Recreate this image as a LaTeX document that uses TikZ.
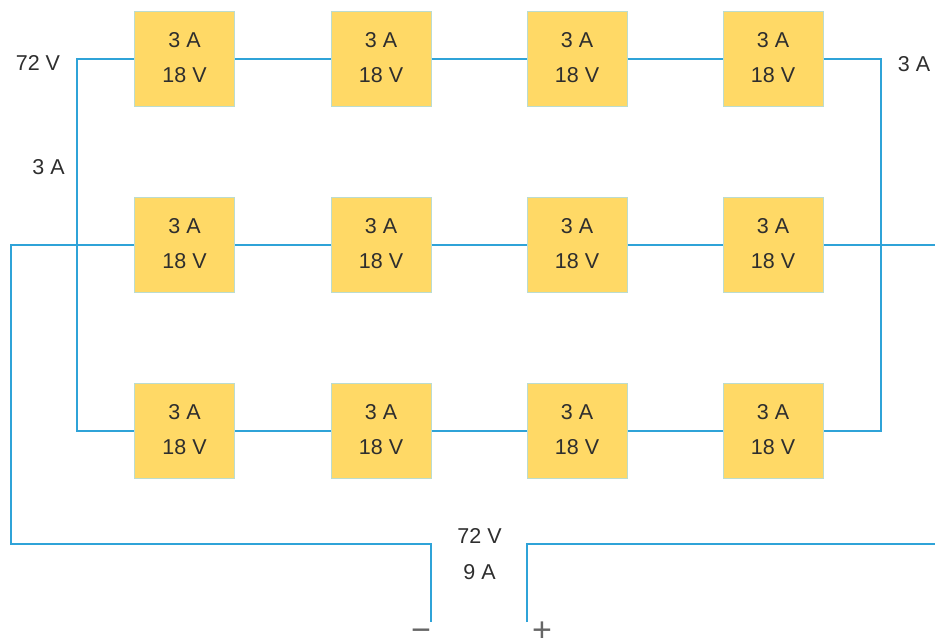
\documentclass[tikz,border=0pt]{standalone}
\usepackage{fontspec}
\setmainfont{Liberation Sans}
\definecolor{wire}{HTML}{2FA3D8}
\definecolor{cellfill}{HTML}{FFD966}
\definecolor{celledge}{HTML}{BBDCCF}
\definecolor{ink}{HTML}{2E2E2E}
\definecolor{pol}{HTML}{666666}
\tikzset{
  cell/.style={draw=celledge,line width=1pt,fill=cellfill,minimum width=100pt,minimum height=95.5pt,inner sep=0pt,align=center,text=ink,
    font=\fontsize{21.5}{35}\selectfont},
  lbl/.style={text=ink,inner sep=0pt,font=\fontsize{21.5}{36}\selectfont,align=center},
  polarity/.style={text=pol,inner sep=0pt,anchor=base,font=\fontsize{34}{34}\selectfont},
  wireline/.style={draw=wire,line width=2.8pt,line join=miter}
}
\begin{document}
\begin{tikzpicture}[x=1pt,y=-1pt]
\useasboundingbox (0,0) rectangle (935,640);
% corners and free ends
\coordinate (tl) at (77,59);
\coordinate (bl) at (77,431);
\coordinate (tr) at (881,59);
\coordinate (br) at (881,431);
\coordinate (ml) at (11,245);
\coordinate (mr) at (935,245);
\coordinate (nc) at (11,544);
\coordinate (nk) at (431,544);
\coordinate (ne) at (431,622);
\coordinate (pk) at (527,544);
\coordinate (pe) at (527,622);
\coordinate (pr) at (935,544);
% cells
\foreach \r/\y in {a/59,b/245,c/431}{
  \foreach \c/\x in {1/184.5,2/381,3/577,4/773}{
    \node[cell] (\r\c) at (\x,\y) {3 A\\18 V\rule[-4pt]{0pt}{4pt}};
  }
}
% wires
\draw[wireline] (a1.west) -- (tl) -- (bl) -- (c1.west);
\draw[wireline] (a4.east) -- (tr) -- (br) -- (c4.east);
\foreach \r in {a,b,c}{
  \draw[wireline] (\r1) -- (\r2);
  \draw[wireline] (\r2) -- (\r3);
  \draw[wireline] (\r3) -- (\r4);
}
\draw[wireline] (b1.west) -- (ml) -- (nc) -- (nk) -- (ne);
\draw[wireline] (b4.east) -- (mr);
\draw[wireline] (pe) -- (pk) -- (pr);
% labels
\node[lbl] (l72) at (38,63) {72 V};
\node[lbl] (l3a) at (48.5,167) {3 A};
\node[lbl] (r3a) at (914,64) {3 A};
\node[lbl] (tot) at (479.5,554) {72 V\\9 A};
\node[polarity] (minus) at (421,641.5) {−};
\node[polarity] (plus) at (542,641.5) {+};
\end{tikzpicture}
\end{document}
